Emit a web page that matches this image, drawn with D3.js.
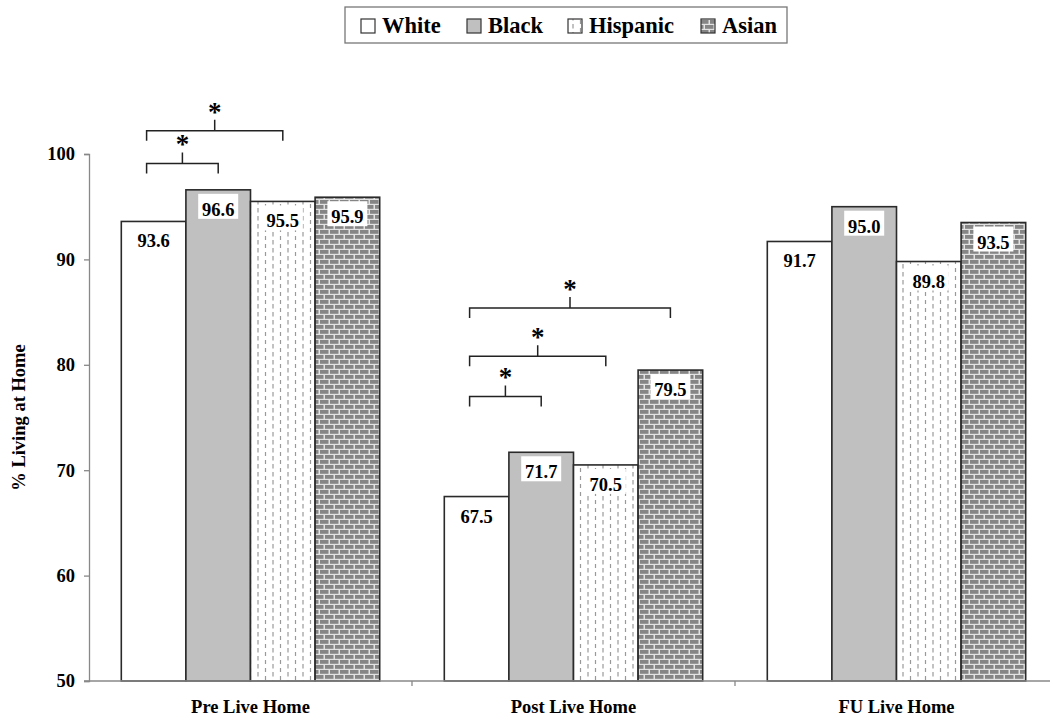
<!DOCTYPE html>
<html><head><meta charset="utf-8">
<script src="https://cdn.jsdelivr.net/npm/d3@7"></script>
<style>body{margin:0;background:#fff}svg{display:block}text{font-family:"Liberation Serif","Times New Roman",serif;font-weight:bold;fill:#000}</style>
</head><body><svg id="c" width="1050" height="724"></svg>
<script>
const categories = ["Pre Live Home", "Post Live Home", "FU Live Home"];
const series = ["White", "Black", "Hispanic", "Asian"];
const white    = [93.6, 67.5, 91.7];
const black    = [96.6, 71.7, 95.0];
const hispanic = [95.5, 70.5, 89.8];
const asian    = [95.9, 79.5, 93.5];
const yTicks = [50, 60, 70, 80, 90, 100];
const yTitle = "% Living at Home";
// significance brackets: category, from-series, to-series, level (y value)
const bracketCat   = ["Pre Live Home", "Pre Live Home", "Post Live Home", "Post Live Home", "Post Live Home"];
const bracketFrom  = ["White", "White", "White", "White", "White"];
const bracketTo    = ["Black", "Hispanic", "Black", "Hispanic", "Asian"];
const bracketLevel = [99.1, 102.2, 77.0, 80.8, 85.4];

const valuesBySeries = {White: white, Black: black, Hispanic: hispanic, Asian: asian};
const svg = d3.select("#c");
const defs = svg.append("defs");

// Hispanic dashed pattern
const ph = defs.append("pattern").attr("id","pHisp").attr("patternUnits","userSpaceOnUse")
  .attr("width",15).attr("height",8);
ph.append("rect").attr("width",15).attr("height",8).attr("fill","#fff");
ph.append("line").attr("x1",3).attr("x2",3).attr("y1",0).attr("y2",4.5).attr("stroke","#999").attr("stroke-width",1.2);
ph.append("line").attr("x1",10.5).attr("x2",10.5).attr("y1",4).attr("y2",8.5).attr("stroke","#999").attr("stroke-width",1.2);
// Asian brick pattern
const pa = defs.append("pattern").attr("id","pAsian").attr("patternUnits","userSpaceOnUse")
  .attr("width",10).attr("height",10);
pa.append("rect").attr("width",10).attr("height",10).attr("fill","#e2e2e2");
pa.append("rect").attr("x",0).attr("y",0).attr("width",8.5).attr("height",3.8).attr("fill","#858585");
pa.append("rect").attr("x",-5).attr("y",5).attr("width",8.5).attr("height",3.8).attr("fill","#858585");
pa.append("rect").attr("x",5).attr("y",5).attr("width",8.5).attr("height",3.8).attr("fill","#858585");

const fills = {White:"#fff", Black:"#c0c0c0", Hispanic:"url(#pHisp)", Asian:"url(#pAsian)"};

const mLeft = 89, mBottom = 681, mTop = 154;
const x0 = d3.scaleBand().domain(categories).range([mLeft, mLeft + 969]).padding(0);
const x1 = d3.scaleBand().domain(series).range([0, x0.bandwidth()]).paddingInner(0).paddingOuter(0.5);
const y = d3.scaleLinear().domain([50, 100]).range([mBottom, mTop]);

// Y axis
const yAxis = svg.append("g").attr("transform",`translate(${mLeft},0)`)
  .call(d3.axisLeft(y).tickValues(yTicks).tickSize(5).tickPadding(9));
yAxis.select(".domain").attr("stroke","#888").attr("stroke-width",1.3);
yAxis.selectAll(".tick line").attr("stroke","#888").attr("stroke-width",1.3);
yAxis.selectAll("text").attr("font-size",18.5).attr("font-family","Liberation Serif").attr("font-weight","bold").attr("fill","#000");

svg.append("text").attr("transform",`translate(25,${(mTop+mBottom)/2}) rotate(-90)`)
  .attr("text-anchor","middle").attr("font-size",18.5).text(yTitle);

// bars
const g = svg.append("g");
categories.forEach((cat, ci) => {
  series.forEach(s => {
    const v = valuesBySeries[s][ci];
    const bx = x0(cat) + x1(s), bw = x1.bandwidth();
    g.append("rect").attr("x",bx).attr("y",y(v)).attr("width",bw).attr("height",y(50)-y(v))
      .attr("fill",fills[s]).attr("stroke","#2a2a2a").attr("stroke-width",1.6);
    const ty = y(v);
    g.append("rect").attr("x",bx+bw/2-20).attr("y",ty+4).attr("width",40).attr("height",25).attr("fill","#fff");
    g.append("text").attr("x",bx+bw/2).attr("y",ty+26).attr("text-anchor","middle")
      .attr("font-size",18.5).text(v.toFixed(1));
  });
});

// X axis
const xAxis = svg.append("g").attr("transform",`translate(0,${mBottom})`);
xAxis.append("line").attr("x1",mLeft-5).attr("x2",1050).attr("y1",0).attr("y2",0).attr("stroke","#888").attr("stroke-width",1.3);
categories.slice(1).forEach(cat => {
  xAxis.append("line").attr("x1",x0(cat)).attr("x2",x0(cat)).attr("y1",0).attr("y2",5).attr("stroke","#888").attr("stroke-width",1.3);
});
categories.forEach(cat => {
  xAxis.append("text").attr("x",x0(cat)+x0.bandwidth()/2).attr("y",32).attr("text-anchor","middle")
    .attr("font-size",18.5).text(cat);
});

// brackets
bracketCat.forEach((cat, i) => {
  const xa = x0(cat) + x1(bracketFrom[i]) + x1.bandwidth()/2 - 7;
  const xb = x0(cat) + x1(bracketTo[i]) + x1.bandwidth()/2;
  const yy = y(bracketLevel[i]);
  const leg = 10, stem = 11;
  const xm = (xa+xb)/2;
  svg.append("path").attr("d",`M${xa},${yy+leg}V${yy}H${xb}V${yy+leg}M${xm},${yy}V${yy-stem}`)
    .attr("fill","none").attr("stroke","#222").attr("stroke-width",1.5);
  svg.append("text").attr("x",xm).attr("y",yy-stem+1).attr("text-anchor","middle").attr("font-size",27).text("*");
});

// legend
const lg = svg.append("g");
lg.append("rect").attr("x",345).attr("y",7).attr("width",442).attr("height",36).attr("fill","#fff").attr("stroke","#777").attr("stroke-width",1.3);
const legSwatchX = [361, 467, 568, 701];
series.forEach((s, i) => {
  lg.append("rect").attr("x",legSwatchX[i]).attr("y",19).attr("width",14).attr("height",14)
    .attr("fill",fills[s]).attr("stroke","#333").attr("stroke-width",1.2);
  lg.append("text").attr("x",legSwatchX[i]+21).attr("y",33).attr("font-size",22.5).text(s);
});
</script></body></html>
